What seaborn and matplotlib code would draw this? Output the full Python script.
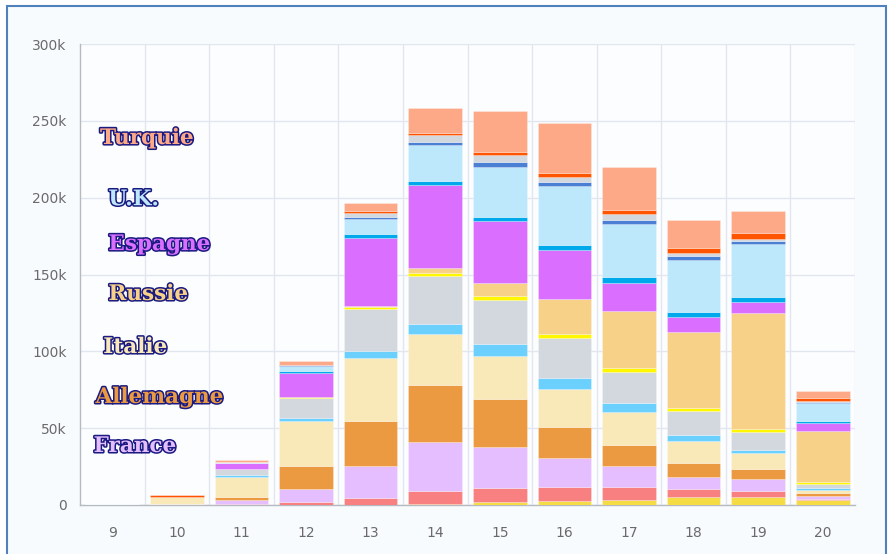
import numpy as np
import pandas as pd
import seaborn as sns
import matplotlib
matplotlib.use('Agg')
import matplotlib.pyplot as plt
import matplotlib.ticker as ticker
import matplotlib.patheffects as pe
from matplotlib.patches import Rectangle

#%% data (values in thousands)
years = [9, 10, 11, 12, 13, 14, 15, 16, 17, 18, 19, 20]

# series listed bottom -> top of the stack
s_gold      = [0, 0, 0, 0, 0, 0.5, 2, 2.5, 3.3, 5.4, 5.4, 3]
s_red       = [0, 0, 0.5, 1.7, 4.4, 8.5, 9, 9.3, 8.2, 4.8, 3.7, 1]
france      = [0, 0.5, 3, 8.7, 21.2, 32, 26.7, 18.5, 13.7, 7.8, 7.8, 1.8]
allemagne   = [0, 0, 1.7, 15.2, 29.3, 37, 31.5, 20.2, 14.1, 9.5, 6.5, 1.8]
italie      = [0, 5, 13, 29, 40.6, 33, 27.7, 24.7, 21, 14.3, 10.6, 2]
s_cyan      = [0, 0, 1.1, 1.7, 4.8, 7, 7.6, 7.5, 5.9, 3.7, 1.8, 1.3]
s_grey      = [0.3, 0, 4.3, 13.4, 27.3, 31, 28.6, 25.8, 20.2, 15.6, 11.5, 3]
s_yellow    = [0, 0, 0, 0.3, 1.5, 2, 2.8, 3, 2.6, 1.8, 2, 1.1]
russie      = [0, 0, 0, 0.3, 0.3, 3, 8.7, 22.5, 37.1, 49.4, 75.5, 33.4]
espagne     = [0, 0, 3.9, 15.8, 44.5, 54, 40, 31.7, 18.5, 9.8, 7.5, 4.8]
s_blue      = [0, 0, 0, 1.1, 2.2, 3, 2.6, 3.7, 3.6, 3.6, 3.3, 1.7]
uk          = [0.6, 0, 0.4, 3.3, 10.2, 23, 33, 38.1, 34.7, 33.6, 34.1, 11.7]
s_darkblue  = [0, 0, 0, 0.3, 1.3, 2, 2.8, 2.6, 2.8, 2.6, 2.1, 0.7]
s_grey2     = [0, 0, 0, 0.3, 2.6, 5, 4.8, 3.3, 3.7, 2.1, 1.5, 0.3]
s_orangered = [0, 0.7, 0, 0.3, 1, 1.3, 1.7, 2.9, 2.8, 3.5, 3.9, 2.2]
turquie     = [0, 0.3, 1.5, 2.2, 5.5, 16, 26.7, 32.3, 27.5, 18.2, 14.3, 4.7]

series = {
    'autre 1': (s_gold, '#F6DC44'),
    'autre 2': (s_red, '#F88080'),
    'France': (france, '#E4BEFF'),
    'Allemagne': (allemagne, '#EC9A42'),
    'Italie': (italie, '#F9E9B8'),
    'autre 3': (s_cyan, '#6CD0FF'),
    'autre 4': (s_grey, '#D3D7DE'),
    'autre 5': (s_yellow, '#FFF700'),
    'Russie': (russie, '#F8D188'),
    'Espagne': (espagne, '#D96EFF'),
    'autre 6': (s_blue, '#00A8EC'),
    'U.K.': (uk, '#BDE7FB'),
    'autre 7': (s_darkblue, '#4A7FD4'),
    'autre 8': (s_grey2, '#D3D7DE'),
    'autre 9': (s_orangered, '#FF5500'),
    'Turquie': (turquie, '#FDA887'),
}

# labels drawn on the left: (name, x left, y centre in k)
labels = [('Turquie', 8.81, 238.8), ('U.K.', 8.94, 199), ('Espagne', 8.94, 169.8),
          ('Russie', 8.94, 137.3), ('Italie', 8.86, 102.8), ('Allemagne', 8.74, 70.3),
          ('France', 8.71, 38.4)]

#%% long table for seaborn
rows = []
for name, (vals, col) in series.items():
    for yr, v in zip(years, vals):
        rows.append({'year': yr, 'serie': name, 'value': v * 1000})
df = pd.DataFrame(rows)

# histplot stacks the last hue level at the bottom -> pass top-to-bottom order
order = list(series.keys())[::-1]
palette = {k: c for k, (v, c) in series.items()}

sns.set_style('white')
plt.rcParams['font.family'] = ['DejaVu Sans']

fig = plt.figure(figsize=(8.9, 5.54), dpi=100, facecolor='white')
frame = Rectangle((7 / 890, -0.05), 879 / 890, 1.05 - 6 / 554,
                  transform=fig.transFigure, facecolor='#F8FBFE',
                  edgecolor='#4F81BD', linewidth=1.5, zorder=-10)
fig.patches.append(frame)
ax = fig.add_axes([80 / 890, 49 / 554, 775 / 890, 461 / 554])
ax.set_facecolor('#FBFDFF')

sns.histplot(data=df, x='year', hue='serie', weights='value', hue_order=order,
             multiple='stack', discrete=True, shrink=0.83, palette=palette,
             alpha=1, edgecolor=(1, 1, 1, 0.45), linewidth=0.4, legend=False, ax=ax, zorder=3)

ax.set_xlim(8.5, 20.5)
ax.set_ylim(0, 300000)
ax.set_xlabel('')
ax.set_ylabel('')
ax.set_xticks(years)
ax.xaxis.set_minor_locator(ticker.FixedLocator(np.arange(9.5, 21, 1)))
ax.yaxis.set_major_locator(ticker.MultipleLocator(50000))
ax.yaxis.set_major_formatter(ticker.FuncFormatter(lambda v, p: '0' if v == 0 else f'{int(v / 1000)}k'))

ax.grid(False)
ax.grid(axis='y', which='major', color='#E2E6EE', linewidth=1, zorder=0)
ax.grid(axis='x', which='minor', color='#E2E6EE', linewidth=1, zorder=0)
ax.set_axisbelow(True)

for s in ['top', 'right']:
    ax.spines[s].set_visible(False)
for s in ['left', 'bottom']:
    ax.spines[s].set_color('#B5B9C0')
    ax.spines[s].set_linewidth(1)

ax.tick_params(axis='both', which='major', colors='#B5B9C0', labelcolor='#6A6A6A',
               labelsize=10, length=6, width=1)
ax.tick_params(axis='x', which='minor', length=0)
ax.tick_params(axis='x', pad=9)

for name, lx, ly in labels:
    ax.text(lx, ly * 1000, name, ha='left', va='center', fontsize=15.5,
            fontweight='bold', family='DejaVu Serif', color=palette[name], zorder=5,
            path_effects=[pe.withStroke(linewidth=2.2, foreground='#1A1A80')])

plt.savefig('out.png', dpi=100, facecolor=fig.get_facecolor())
